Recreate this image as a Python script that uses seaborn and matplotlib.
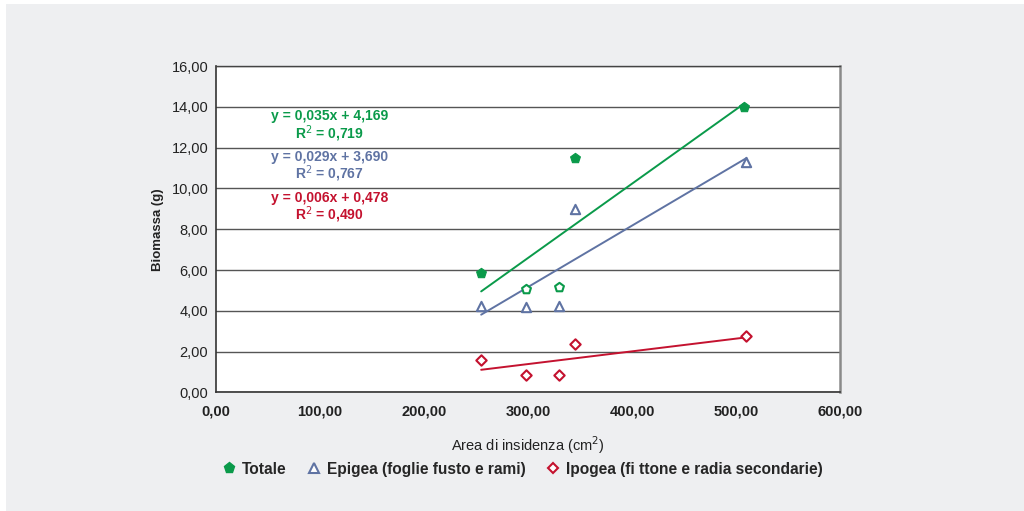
import numpy as np
import pandas as pd
import matplotlib
matplotlib.use("Agg")
import matplotlib.pyplot as plt
import seaborn as sns
from matplotlib.lines import Line2D
from matplotlib.patches import Rectangle
from matplotlib.ticker import FuncFormatter

# data
area = [255, 298, 330, 345, 508]
totale = [5.85, 5.05, 5.15, 11.5, 14.0]
totale_filled = [True, False, False, True, True]
area_epi = [255, 298, 330, 345, 510]
epigea = [4.25, 4.2, 4.25, 9.0, 11.3]
area_ipo = [255, 298, 330, 345, 510]
ipogea = [1.6, 0.85, 0.85, 2.4, 2.75]

series_names = ["Totale", "Epigea (foglie fusto e rami)",
                "Ipogea (fi ttone e radia secondarie)"]
equations = ["y = 0,035x + 4,169", "y = 0,029x + 3,690", "y = 0,006x + 0,478"]
r2_labels = ["R$^2$ = 0,719", "R$^2$ = 0,767", "R$^2$ = 0,490"]
x_ticks = [0, 100, 200, 300, 400, 500, 600]
y_ticks = [0, 2, 4, 6, 8, 10, 12, 14, 16]

green = "#0a9a4a"
blue = "#5f73a3"
red = "#c4122f"
bg = "#eeeff1"

sns.set_style("white")
plt.rcParams['font.family'] = ['Liberation Sans', 'DejaVu Sans']
plt.rcParams['font.size'] = 10

df_tot = pd.DataFrame({"x": area, "y": totale, "filled": totale_filled})
df_epi = pd.DataFrame({"x": area_epi, "y": epigea})
df_ipo = pd.DataFrame({"x": area_ipo, "y": ipogea})

fig = plt.figure(figsize=(10.24, 5.11), dpi=100)
fig.patch.set_facecolor("white")
fig.patches.append(Rectangle((6 / 1024, 0), 1, 1 - 4 / 511, transform=fig.transFigure,
                             facecolor=bg, edgecolor="none", zorder=-10))
ax = fig.add_axes([0.2109, 0.2319, 0.6094, 0.6389])
ax.set_facecolor("white")

# trend lines (least squares, as in the original)
for d, c in [(df_tot, green), (df_epi, blue), (df_ipo, red)]:
    sns.regplot(data=d, x="x", y="y", scatter=False, ci=None, ax=ax,
                line_kws=dict(color=c, lw=1.4, zorder=3))

# points
filled = df_tot[df_tot["filled"]]
hollow = df_tot[~df_tot["filled"]]
sns.scatterplot(data=filled, x="x", y="y", marker="p", s=55, color=green,
                edgecolor=green, linewidth=0.8, ax=ax, zorder=4)
sns.scatterplot(data=hollow, x="x", y="y", marker="p", s=45, facecolor="white",
                edgecolor=green, linewidth=1.5, ax=ax, zorder=4)
sns.scatterplot(data=df_epi, x="x", y="y", marker="^", s=45, facecolor="white",
                edgecolor=blue, linewidth=1.5, ax=ax, zorder=4)
sns.scatterplot(data=df_ipo, x="x", y="y", marker="D", s=28, facecolor="white",
                edgecolor=red, linewidth=1.5, ax=ax, zorder=4)

ax.set_xlim(0, 600)
ax.set_ylim(0, 16)
ax.set_xticks(x_ticks)
ax.set_yticks(y_ticks)
fmt = FuncFormatter(lambda v, p: f"{v:.2f}".replace(".", ","))
ax.xaxis.set_major_formatter(fmt)
ax.yaxis.set_major_formatter(fmt)
ax.tick_params(axis="both", direction="inout", length=7, width=1, color="#333333",
               labelsize=10.5, labelcolor="#222222", pad=2)
ax.tick_params(axis="x", pad=5)
for lab in ax.get_xticklabels():
    lab.set_fontweight("bold")

ax.grid(axis="y", color="#555555", lw=1)
ax.grid(axis="x", visible=False)
ax.set_axisbelow(True)
for s in ["left", "bottom"]:
    ax.spines[s].set_color("#333333")
    ax.spines[s].set_linewidth(1.2)
ax.spines["top"].set_color("#444444")
ax.spines["top"].set_linewidth(1)
ax.spines["right"].set_color("#8a8a8a")
ax.spines["right"].set_linewidth(1.8)

ax.set_xlabel("Area di insidenza (cm$^2$)", fontsize=10.5, color="#222222")
ax.set_ylabel("Biomassa (g)", fontsize=9.5, fontweight="bold", color="#222222")
ax.xaxis.set_label_coords(0.5, -0.128)
ax.yaxis.set_label_coords(-0.083, 0.5)

# equations
eq_y = [13.55, 11.55, 9.55]
for eq, r2, c, yy in zip(equations, r2_labels, [green, blue, red], eq_y):
    ax.text(109, yy, eq, color=c, fontsize=10, fontweight="bold", ha="center", va="center")
    ax.text(109, yy - 0.85, r2, color=c, fontsize=10, fontweight="bold", ha="center", va="center")

handles = [
    Line2D([], [], marker="p", ls="none", color=green, markersize=8),
    Line2D([], [], marker="^", ls="none", markerfacecolor="white", markeredgecolor=blue,
           markeredgewidth=1.5, markersize=7),
    Line2D([], [], marker="D", ls="none", markerfacecolor="white", markeredgecolor=red,
           markeredgewidth=1.5, markersize=5.5),
]
fig.legend(handles, series_names, loc="center", bbox_to_anchor=(0.509, 0.082), ncol=3,
           frameon=False, handletextpad=0.2, columnspacing=1.2, handlelength=1.2,
           prop=dict(weight="bold", size=11.2))

fig.savefig("out.png", dpi=100, facecolor=fig.get_facecolor())
